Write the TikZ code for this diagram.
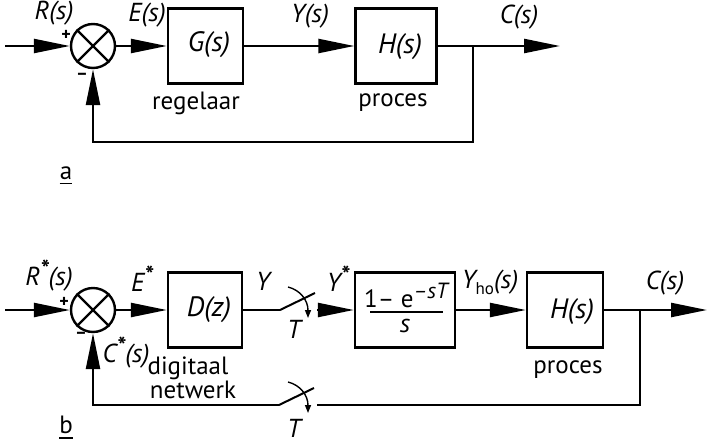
\documentclass[tikz,border=0pt]{standalone}
\usepackage{fontspec}
\setmainfont{PT Sans}
\usetikzlibrary{arrows.meta}
\begin{document}
\begin{tikzpicture}[x=1pt,y=-1pt,
  wire/.style={line width=2.4pt},
  sig/.style={wire,-{Triangle[length=36pt,width=14pt]}},
  blk/.style={draw,line width=2.4pt,minimum width=75pt,minimum height=75pt,inner sep=0pt},
  sumj/.style={draw,circle,line width=2.4pt,minimum size=44pt,inner sep=0pt},
  lbl/.style={font=\fontsize{26}{28}\selectfont\itshape,inner sep=0pt},
  big/.style={font=\fontsize{28}{30}\selectfont\itshape,inner sep=0pt},
  txt/.style={font=\fontsize{25}{27}\selectfont,inner sep=0pt},
  sgn/.style={font=\fontsize{18}{20}\selectfont\bfseries,inner sep=0pt},
  blade/.style={line width=2pt},
  swarrow/.style={line width=1.4pt,-{Triangle[length=8pt,width=6pt]}}
]
\newcommand{\sampmark}{\raisebox{8pt}{\fontsize{24}{24}\selectfont\bfseries *}}
\useasboundingbox (0,0) rectangle (708,444);

% ---------- a: continuous loop ----------
\coordinate (inA) at (5,46);
\node[sumj] (s1) at (93,46) {};
\draw[wire] (s1.45) -- (s1.225) (s1.135) -- (s1.315);
\node[blk] (G) at (205.5,46) {};
\node[blk,minimum width=81pt] (H) at (396,46) {};
\coordinate (outA) at (560,46);
\coordinate (bA) at (473,46);
\coordinate (fA) at (93,142);

\draw[sig] (inA) -- (s1.west);
\draw[sig] (s1.east) -- (G.west);
\draw[sig] (G.east) -- (H.west);
\draw[sig] (H.east) -- (outA);
\draw[sig] (bA) |- (fA) -- (s1.south);

\node[lbl] (lR) at (54,13) {R(s)};
\node[sgn] (pA) at (66,35) {+};
\node[sgn] (mA) at (82,76) {–};
\node[lbl] (lE) at (147,15) {E(s)};
\node[big] (lG) at (209,45) {G(s)};
\node[txt] (lreg) at (196,103) {regelaar};
\node[lbl] (lY) at (310,16) {Y(s)};
\node[big] (lH) at (400,47) {H(s)};
\node[txt] (lpA) at (393,103) {proces};
\node[lbl] (lC) at (519,17) {C(s)};
\node[txt] (la) at (66,173) {a};
\draw[line width=1.6pt] ([yshift=-4pt]la.south west) -- ([yshift=-4pt]la.south east);

% ---------- b: sampled loop ----------
\coordinate (inB) at (5,310);
\node[sumj] (s2) at (93,310) {};
\draw[wire] (s2.45) -- (s2.225) (s2.135) -- (s2.315);
\node[blk,minimum width=74pt] (D) at (205,310) {};
\node[blk,minimum width=100pt] (Z) at (405,310) {};
\node[blk,minimum width=76pt] (P) at (565,310) {};
\coordinate (outB) at (707,310);
\coordinate (bB) at (640,310);

% sampler in the forward path
\coordinate (k1a) at (280,310);
\coordinate (k1b) at (315,293);
\coordinate (k1c) at (317,310);
% sampler in the feedback path
\coordinate (k2a) at (279,405);
\coordinate (k2b) at (314,388);
\coordinate (k2c) at (317,405);
\coordinate (fB) at (93,405);

\draw[sig] (inB) -- (s2.west);
\draw[sig] (s2.east) -- (D.west);
\draw[wire] (D.east) -- (k1a);
\draw[blade] (k1a) -- (k1b);
\draw[swarrow] (288,287) .. controls (300,290) and (308,300) .. (308,318);
\draw[sig] (k1c) -- (Z.west);
\draw[sig] (Z.east) -- (P.west);
\draw[sig] (P.east) -- (outB);
\draw[wire] (bB) |- (k2c);
\draw[blade] (k2a) -- (k2b);
\draw[swarrow] (288,382) .. controls (300,385) and (308,395) .. (308,413);
\draw[sig] (k2a) -- (fB) -- (s2.south);

% hold element
\node[txt] (num) at (406,295) {1– e\raisebox{9pt}{\fontsize{22}{22}\selectfont\itshape –sT}};
\draw[line width=1.6pt] (370,312) -- (443,312);
\node[lbl] (den) at (405,326) {s};

\node[lbl] (lRs) at (49,276) {R\sampmark(s)};
\node[sgn] (pB) at (64,302) {+};
\node[sgn] (mB) at (81,335) {–};
\node[lbl] (lEs) at (142,279) {E\sampmark};
\node[big] (lD) at (209,310) {D(z)};
\node[lbl] (lYb) at (263,281) {Y};
\node[lbl] (lT1) at (294,329) {T};
\node[lbl] (lYs) at (338,279) {Y\sampmark};
\node[lbl] (lYho) at (490,282) {Y\raisebox{-6pt}{\fontsize{17}{17}\selectfont\upshape ho}(s)};
\node[big] (lHb) at (572,312) {H(s)};
\node[txt] (lpB) at (568,370) {proces};
\node[lbl] (lCb) at (665,283) {C(s)};
\node[lbl] (lCs) at (126,353) {C\sampmark(s)};
\node[txt] (ldig) at (188,368) {digitaal};
\node[txt] (lnet) at (193,390) {netwerk};
\node[lbl] (lT2) at (294,428) {T};
\node[txt] (lb) at (66,425) {b};
\draw[line width=1.6pt] ([yshift=-4pt]lb.south west) -- ([yshift=-4pt]lb.south east);
\end{tikzpicture}
\end{document}
